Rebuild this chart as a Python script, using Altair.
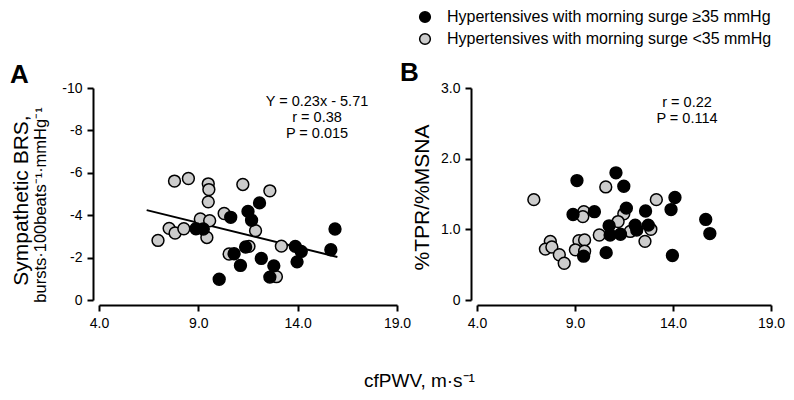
import altair as alt
import pandas as pd

FONT = "Liberation Sans"
HI = "Hypertensives with morning surge ≥35 mmHg"
LO = "Hypertensives with morning surge <35 mmHg"

# ---- Panel A: Sympathetic BRS vs cfPWV ----
a_hi_x = [12.08, 11.50, 10.63, 11.68, 8.88, 9.25, 15.88, 13.88, 14.18, 15.67,
          10.80, 11.38, 12.17, 11.12, 12.80, 13.97, 12.60, 10.05]
a_hi_y = [-4.58, -4.18, -3.90, -3.76, -3.36, -3.35, -3.35, -2.53, -2.29, -2.37,
          -2.18, -2.50, -1.96, -1.63, -1.61, -1.80, -1.08, -0.98]
a_lo_x = [7.80, 8.50, 9.50, 9.53, 9.50, 11.24, 12.60, 10.30, 9.10, 9.57,
          7.53, 7.83, 8.27, 6.97, 9.43, 11.88, 13.18, 10.55, 11.55, 12.93]
a_lo_y = [-5.61, -5.73, -5.48, -5.21, -4.63, -5.45, -5.15, -4.08, -3.82, -3.74,
          -3.38, -3.16, -3.36, -2.81, -2.95, -3.27, -2.54, -2.17, -2.53, -1.10]

# regression line end points (Y = 0.23x - 5.71)
fit_x = [6.4, 16.0]
fit_y = [-4.24, -2.03]

# ---- Panel B: %TPR/%MSNA vs cfPWV ----
b_hi_x = [9.10, 11.09, 11.49, 8.90, 9.99, 11.62, 12.60, 13.90, 10.74, 10.79,
          11.32, 12.07, 12.15, 12.74, 9.44, 10.59, 14.10, 13.97, 15.67, 15.88]
b_hi_y = [1.69, 1.80, 1.61, 1.21, 1.25, 1.30, 1.26, 1.28, 1.05, 0.92,
          0.93, 1.06, 0.99, 1.06, 0.62, 0.67, 1.45, 0.63, 1.14, 0.94]
b_lo_x = [6.90, 10.57, 13.15, 9.45, 9.40, 11.49, 11.20, 10.24, 11.82, 12.87,
          12.57, 7.74, 7.49, 7.82, 8.20, 8.45, 9.20, 9.49, 9.02, 9.49]
b_lo_y = [1.42, 1.60, 1.42, 1.25, 1.18, 1.22, 1.11, 0.92, 0.97, 1.00,
          0.83, 0.83, 0.72, 0.75, 0.64, 0.52, 0.84, 0.85, 0.71, 0.69]

x_ticks = [4, 9, 14, 19]
a_y_ticks = [-10, -8, -6, -4, -2, 0]
b_y_ticks = [0, 1, 2, 3]

a_text = ["Y = 0.23x - 5.71", "r = 0.38", "P = 0.015"]
b_text = ["r = 0.22", "P = 0.114"]


def frame(hx, hy, lx, ly):
    lo = pd.DataFrame({"x": lx, "y": ly, "g": LO})
    hi = pd.DataFrame({"x": hx, "y": hy, "g": HI})
    return pd.concat([lo, hi], ignore_index=True)


dfA = frame(a_hi_x, a_hi_y, a_lo_x, a_lo_y)
dfB = frame(b_hi_x, b_hi_y, b_lo_x, b_lo_y)
dfFit = pd.DataFrame({"x": fit_x, "y": fit_y})

axis_common = dict(
    domainColor="black", domainWidth=2, tickColor="black", tickWidth=2,
    tickSize=6, labelFont=FONT, labelFontSize=14, labelColor="black",
    grid=False, labelFlush=False, labelOverlap=False,
    titleFont=FONT, titleFontWeight="normal", titleColor="black",
    titleLimit=0,
)

xA_scale = alt.Scale(domain=[4, 19], range=[0, 298], nice=False, zero=False)
xB_scale = alt.Scale(domain=[4, 19], range=[378, 672], nice=False, zero=False)
yA_scale = alt.Scale(domain=[-10, 0], range=[0, 212], nice=False, zero=False)
yB_scale = alt.Scale(domain=[0, 3], range=[212, 0], nice=False, zero=False)

xA_axis = alt.Axis(values=x_ticks, format=".1f", orient="bottom", offset=5,
                   labelPadding=5, title="cfPWV, m·s⁻¹", titleFontSize=19,
                   titleX=320, titleY=75, titleAlign="center",
                   titleBaseline="middle", **axis_common)
xB_axis = alt.Axis(values=x_ticks, format=".1f", orient="bottom", offset=5,
                   labelPadding=5, title=None, **axis_common)
yA_axis = alt.Axis(values=a_y_ticks, orient="left", offset=6,
                   labelPadding=5, labelExpr="'' + datum.value",
                   title="Sympathetic BRS,", titleFontSize=21,
                   titleAngle=270, titleX=-72, titleY=112, titleAlign="center",
                   titleBaseline="middle", **axis_common)
yB_axis = alt.Axis(values=b_y_ticks, orient="left", offset=-372,
                   labelPadding=5,
                   labelExpr="datum.value == 0 ? '0' : format(datum.value, '.1f')",
                   title="%TPR/%MSNA", titleFontSize=21, titleAngle=270,
                   titleX=-49, titleY=109, titleAlign="center",
                   titleBaseline="middle", **axis_common)

fill_enc = alt.Fill(
    "g:N",
    scale=alt.Scale(domain=[HI, LO], range=["#000000", "#cccccc"]),
    legend=alt.Legend(
        orient="none", legendX=318, legendY=-79, title=None,
        labelFont=FONT, labelFontSize=16, labelColor="black", labelLimit=0,
        symbolType="circle", symbolSize=115, symbolStrokeColor="black",
        symbolStrokeWidth=1.5, symbolOpacity=1, rowPadding=4, labelOffset=14,
    ),
)

pointsA = alt.Chart(dfA).mark_circle(
    size=140, opacity=1, stroke="black", strokeWidth=1.5
).encode(
    x=alt.X("x:Q", scale=xA_scale, axis=xA_axis),
    y=alt.Y("y:Q", scale=yA_scale, axis=yA_axis),
    fill=fill_enc,
)
fitA = alt.Chart(dfFit).mark_line(color="black", strokeWidth=2).encode(
    x=alt.X("x:Q", scale=xA_scale, axis=xA_axis),
    y=alt.Y("y:Q", scale=yA_scale, axis=yA_axis),
)
panelA = alt.layer(fitA, pointsA)

pointsB = alt.Chart(dfB).mark_circle(
    size=140, opacity=1, stroke="black", strokeWidth=1.5
).encode(
    x=alt.X("x:Q", scale=xB_scale, axis=xB_axis),
    y=alt.Y("y:Q", scale=yB_scale, axis=yB_axis),
    fill=fill_enc,
)
panelB = alt.layer(pointsB)

dummy = pd.DataFrame({"k": [0]})


def label(txt, px, py, size=14, weight="normal", align="center",
          baseline="middle", angle=0):
    return alt.Chart(dummy).mark_text(
        text=txt, font=FONT, fontSize=size, fontWeight=weight, color="black",
        align=align, baseline=baseline, angle=angle,
    ).encode(x=alt.value(px), y=alt.value(py))


texts = [
    label("A", -89, -5, size=26, weight="bold", align="left", baseline="alphabetic"),
    label("B", 301, -7, size=26, weight="bold", align="left", baseline="alphabetic"),
    label("bursts·100beats⁻¹·mmHg⁻¹", -58, 117, size=16.5, angle=270),
]
for i, t in enumerate(a_text):
    texts.append(label(t, 218, 14 + i * 16, size=14.5))
for i, t in enumerate(b_text):
    texts.append(label(t, 588, 15 + i * 16, size=14.5))

chart = alt.layer(panelA, panelB, *texts).resolve_scale(
    x="independent", y="independent"
).properties(
    width=678, height=212,
    autosize=alt.AutoSizeParams(type="none"),
    padding={"left": 91, "top": 80, "right": 9, "bottom": 92},
).configure_view(stroke=None)

chart.save("out.html", embed_options={"renderer": "svg", "actions": False})
